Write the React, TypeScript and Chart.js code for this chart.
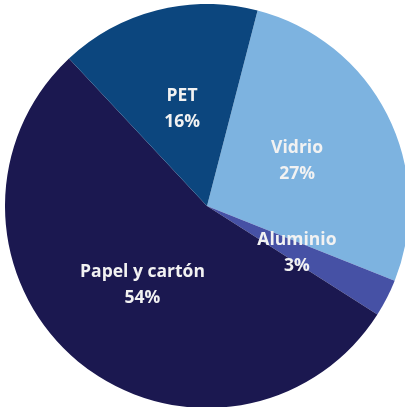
import React, { useEffect, useRef } from "react";
import { Chart, registerables } from "chart.js";

Chart.register(...registerables);

const labels = ["Vidrio", "Aluminio", "Papel y cartón", "PET"];
const values = [27, 3, 54, 16];
const colors = ["#7db3e0", "#4651a5", "#1b1850", "#0c467e"];

const labelPlugin = {
  id: "sliceLabels",
  afterDatasetsDraw(chart: any) {
    const ctx = chart.ctx;
    const meta = chart.getDatasetMeta(0);
    ctx.save();
    ctx.fillStyle = "#f2f2f2";
    ctx.font = "bold 17.5px 'Open Sans', sans-serif";
    ctx.textAlign = "center";
    ctx.textBaseline = "middle";
    meta.data.forEach((arc: any, i: number) => {
      const p = arc.tooltipPosition();
      ctx.fillText(labels[i], p.x, p.y - 12);
      ctx.fillText(values[i] + "%", p.x, p.y + 14);
    });
    ctx.restore();
  },
};

export default function App() {
  const ref = useRef<HTMLCanvasElement>(null);
  useEffect(() => {
    const chart = new Chart(ref.current!, {
      type: "pie",
      data: {
        labels,
        datasets: [{ data: values, backgroundColor: colors, borderWidth: 0 }],
      },
      options: {
        animation: false,
        responsive: false,
        rotation: 14.5,
        layout: { padding: 0 },
        plugins: { legend: { display: false }, tooltip: { enabled: false } },
      },
      plugins: [labelPlugin],
    });
    return () => chart.destroy();
  }, []);
  return (
    <div style={{ position: "fixed", left: 0, top: 0, width: 405, height: 407, overflow: "hidden", background: "#fff" }}>
      <canvas ref={ref} width={404} height={404} style={{ position: "absolute", left: 5, top: 4, width: 404, height: 404 }} />
    </div>
  );
}
